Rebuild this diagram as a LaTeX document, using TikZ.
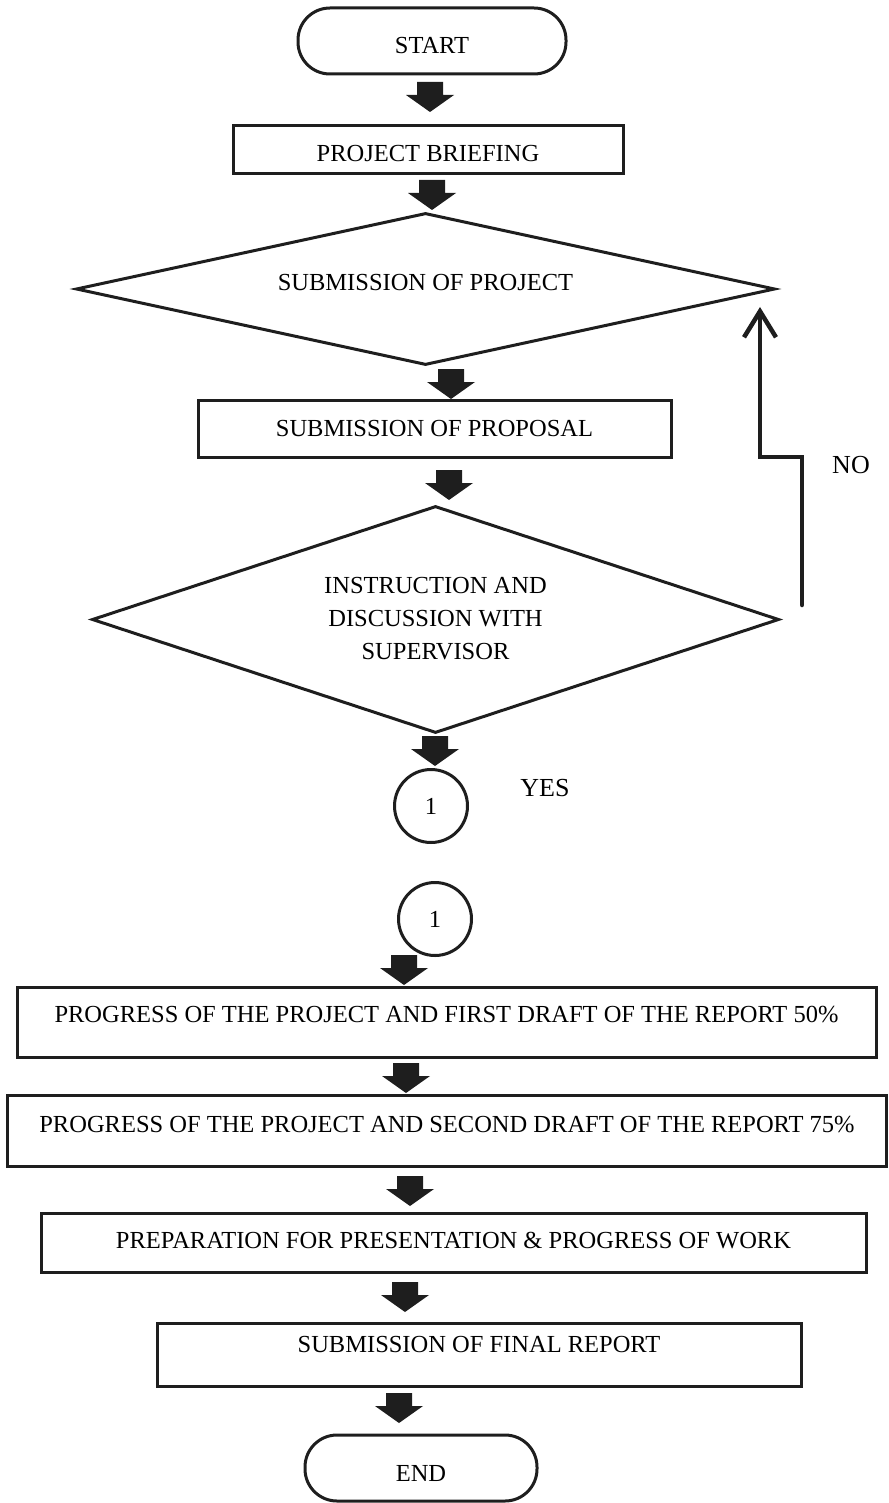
\documentclass[tikz,border=0pt]{standalone}
\usepackage{fontspec}
\setmainfont{Liberation Serif}
\usetikzlibrary{shapes.geometric,arrows.meta}
\definecolor{ink}{HTML}{1E1E1E}
\tikzset{
  box/.style={draw=ink,line width=3pt,rectangle,inner sep=0pt,font=\fontsize{24.5}{28}\selectfont},
  term/.style={box,rounded corners=32pt},
  dec/.style={draw=ink,line width=3pt,diamond,inner sep=0pt,font=\fontsize{24.5}{33}\selectfont,align=center},
  conn/.style={draw=ink,line width=3pt,circle,inner sep=0pt,minimum size=73pt,font=\fontsize{24.5}{28}\selectfont},
  lbl/.style={font=\fontsize{26}{30}\selectfont},
  barrowfill/.style={fill=ink},
  noline/.style={draw=ink,line width=4.5pt,line cap=round,line join=miter,-{Straight Barb[length=26pt,width=32pt,line width=4.5pt]}}
}
% block arrow: #1 = x centre, #2 = top y
\newcommand\blockarr[2]{\fill[barrowfill] (#1-13,#2) -- (#1+13,#2) -- (#1+13,#2+13) -- (#1+24,#2+13) -- (#1,#2+30) -- (#1-24,#2+13) -- (#1-13,#2+13) -- cycle;}
\begin{document}
\begin{tikzpicture}[x=1pt,y=-1pt]
\useasboundingbox (0,0) rectangle (888,1503);
\node[term,minimum width=268pt,minimum height=66pt,text height=26pt,text depth=0pt] (start) at (432,41) {START};
\node[box,minimum width=390pt,minimum height=48pt,text height=24pt,text depth=0pt] (brief) at (428,150) {PROJECT BRIEFING};
\node[dec,aspect=4.6,minimum width=699pt,minimum height=152pt] (subproj) at (425.5,289) {\raisebox{13pt}{SUBMISSION OF PROJECT}};
\node[box,minimum width=473pt,minimum height=57pt,text height=16.2pt,text depth=0pt] (subprop) at (434.5,428.5) {SUBMISSION OF PROPOSAL};
\node[dec,aspect=3.03,minimum width=687pt,minimum height=227pt] (disc) at (435.5,619.5) {\raisebox{-11pt}{\begin{tabular}{@{}c@{}}INSTRUCTION AND\\DISCUSSION WITH\\SUPERVISOR\end{tabular}}};
\node[conn] (c1) at (431,806) {1};
\node[lbl] (yes) at (545,788) {YES};
\node[conn] (c2) at (435,919) {1};
\node[box,minimum width=859pt,minimum height=70pt,text height=17pt,text depth=15.8pt] (p50) at (446.5,1022) {PROGRESS OF THE PROJECT AND FIRST DRAFT OF THE REPORT 50\%};
\node[box,minimum width=879pt,minimum height=71pt,text height=17pt,text depth=12.8pt] (p75) at (447,1130.5) {PROGRESS OF THE PROJECT AND SECOND DRAFT OF THE REPORT 75\%};
\node[box,minimum width=825pt,minimum height=59pt,text height=17pt,text depth=5.8pt] (prep) at (453.5,1242.5) {PREPARATION FOR PRESENTATION \& PROGRESS OF WORK};
\node[box,minimum width=644pt,minimum height=63pt,text height=17pt,text depth=20.8pt] (final) at (479,1354.5) {SUBMISSION OF FINAL REPORT};
\node[term,minimum width=232pt,minimum height=66pt,text height=26pt,text depth=0pt] (end) at (421,1468) {END};
\node[lbl] (no) at (851,465) {NO};
% block arrows
\blockarr{430}{82}
\blockarr{432}{180}
\blockarr{451}{369}
\blockarr{449}{470}
\blockarr{435}{736}
\blockarr{404}{955}
\blockarr{406}{1063}
\blockarr{410}{1176}
\blockarr{405}{1282}
\blockarr{399}{1393}
% NO loop
\coordinate (nofrom) at (802,605);
\coordinate (noto) at (760,307);
\draw[noline] (nofrom) -- (802,457) -- (760,457) -- (noto);
\end{tikzpicture}
\end{document}
